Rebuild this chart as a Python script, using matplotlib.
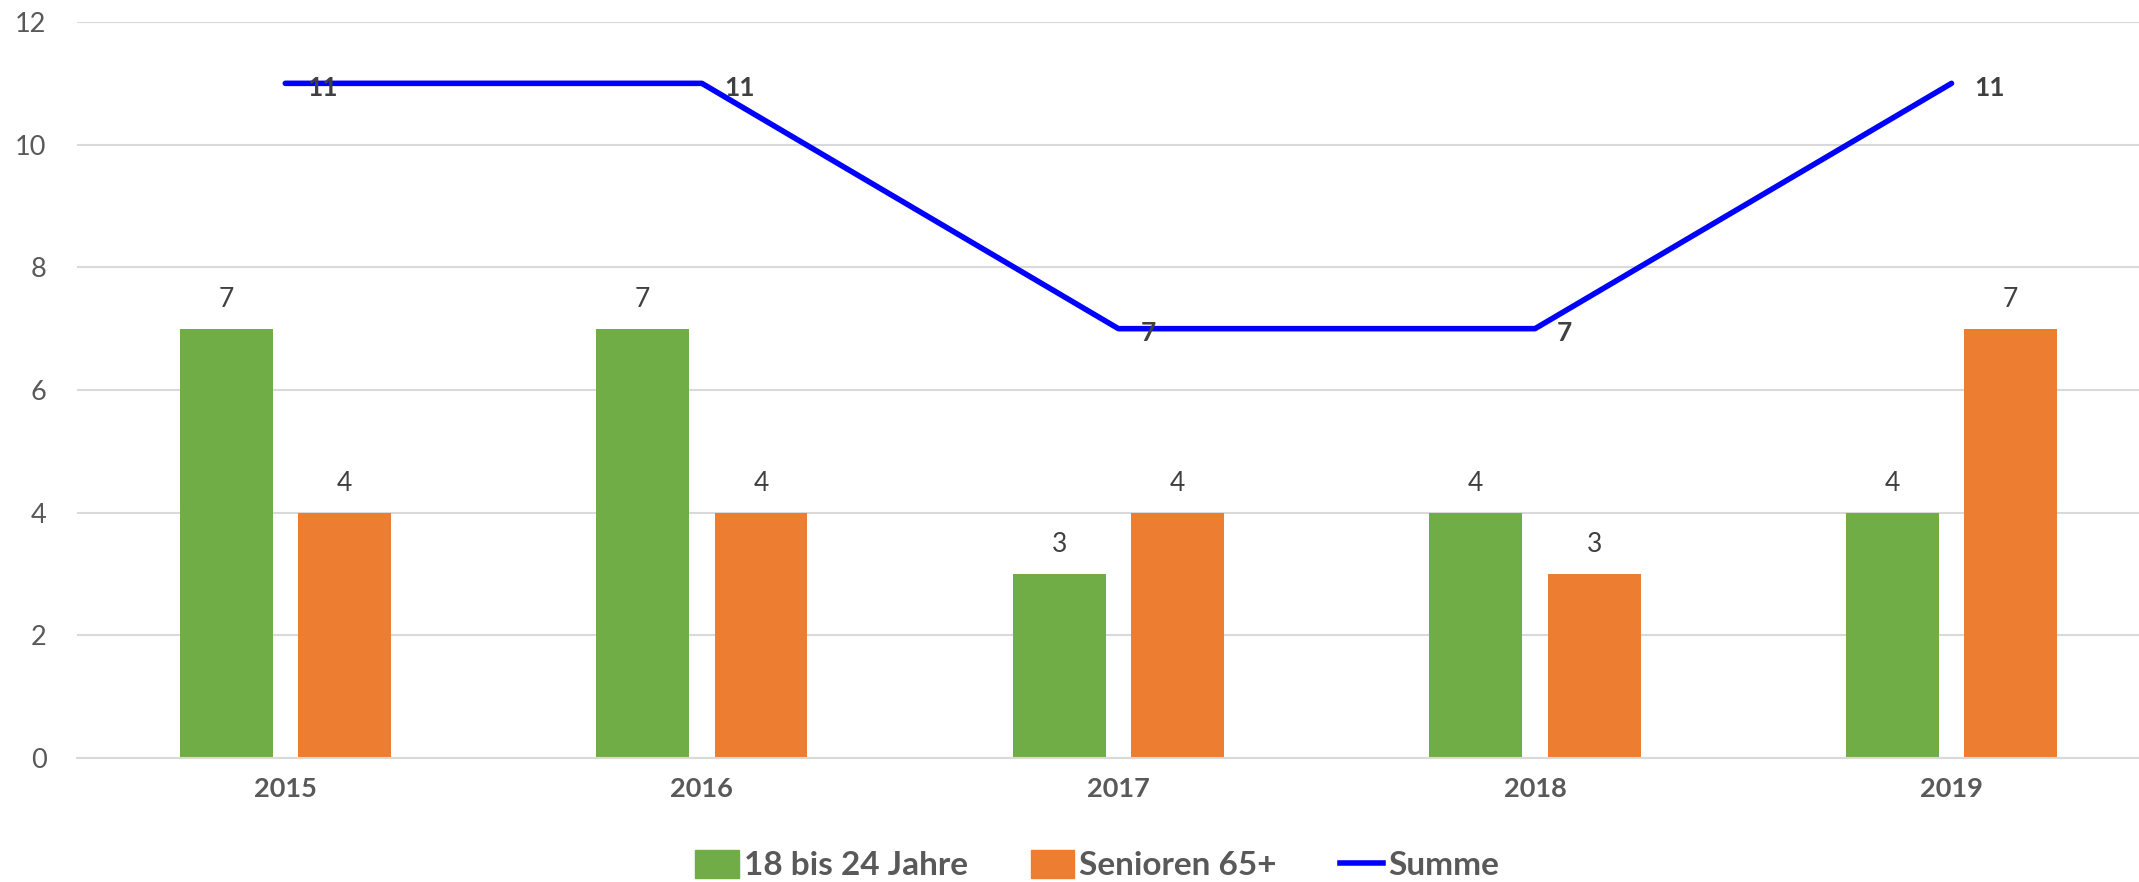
import numpy as np
import matplotlib.pyplot as plt
from matplotlib.lines import Line2D
from matplotlib.patches import Patch

# Data
years = ['2015', '2016', '2017', '2018', '2019']
young = [7, 7, 3, 4, 4]
seniors = [4, 4, 4, 3, 7]
total = [11, 11, 7, 7, 11]

green = '#70AD47'
orange = '#ED7D31'
blue = '#0000FF'
txt = '#595959'
dark = '#404040'

plt.rcParams['font.family'] = ['Lato', 'DejaVu Sans']

fig = plt.figure(figsize=(21.39, 8.82), dpi=100)
ax = fig.add_axes([77 / 2139, 124 / 882, 1 - 77 / 2139, (882 - 22 - 124) / 882])

x = np.arange(len(years))
w = 0.223
off = 0.142

b1 = ax.bar(x - off, young, w, color=green, zorder=2)
b2 = ax.bar(x + off, seniors, w, color=orange, zorder=2)
ax.plot(x, total, color=blue, lw=4, zorder=3, solid_capstyle='round')

# Labels above bars
for rect, v in zip(list(b1) + list(b2), young + seniors):
    ax.annotate(str(v), (rect.get_x() + rect.get_width() / 2, v),
                xytext=(0, 12), textcoords='offset points',
                ha='center', va='bottom', fontsize=19, color=dark)

# Labels for the sum line
for xi, v in zip(x, total):
    ax.annotate(str(v), (xi, v), xytext=(16, -3), textcoords='offset points',
                ha='left', va='center', fontsize=19, color=dark, fontweight='bold')

ax.set_xlim(-0.5, 4.45)
ax.set_ylim(0, 12)
ax.set_yticks(range(0, 13, 2))
ax.set_xticks(x)
ax.set_xticklabels(years, fontweight='bold')
ax.tick_params(axis='both', length=0, labelsize=19.5, colors=txt)
ax.tick_params(axis='x', pad=14)
ax.tick_params(axis='y', pad=22)
ax.grid(axis='y', color='#D9D9D9', lw=1.5, zorder=0)
for s in ['top', 'right', 'left']:
    ax.spines[s].set_visible(False)
ax.spines['bottom'].set_color('#D9D9D9')
ax.spines['bottom'].set_linewidth(1.5)

handles = [Patch(color=green, label='18 bis 24 Jahre'),
           Patch(color=orange, label='Senioren 65+'),
           Line2D([0], [0], color=blue, lw=4, label='Summe')]
leg = fig.legend(handles=handles, loc='center', bbox_to_anchor=(0.513, 0.019),
                 ncol=3, frameon=False, fontsize=24, handlelength=1.3,
                 handleheight=0.9, handletextpad=0.15, columnspacing=1.9)
for t in leg.get_texts():
    t.set_color(txt)
    t.set_fontweight('bold')

fig.savefig('out.png', dpi=100)
